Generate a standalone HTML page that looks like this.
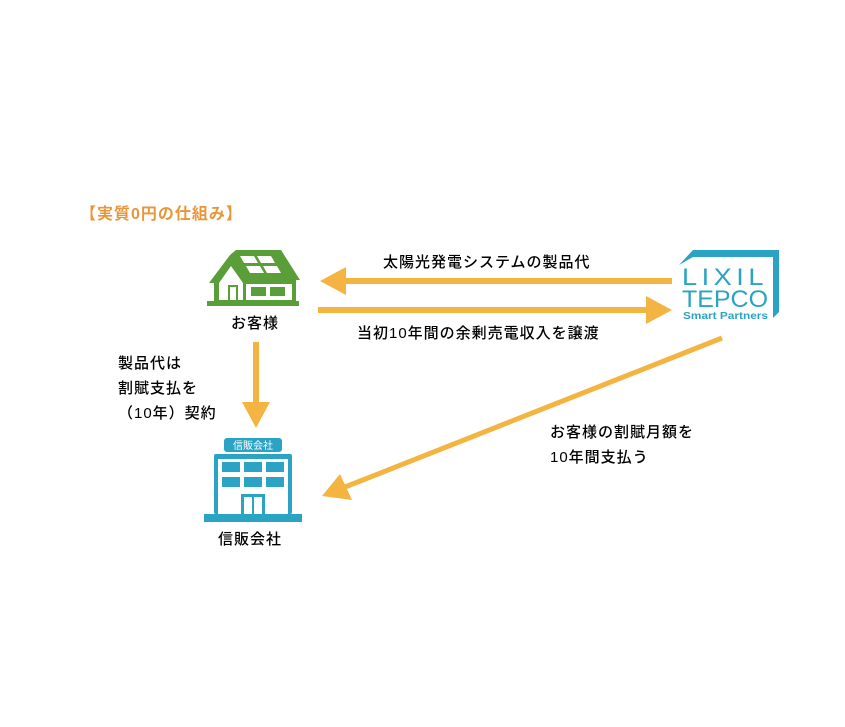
<!DOCTYPE html>
<html><head><meta charset="utf-8"><style>
body{margin:0;background:#fff;width:845px;height:727px;overflow:hidden;position:relative;font-family:"Liberation Sans","Noto Sans CJK JP",sans-serif;}
.t{position:absolute;font-size:15px;color:#000;white-space:nowrap;letter-spacing:1px;line-height:1;font-weight:500;}
</style></head><body>
<div class="t" style="left:80px;top:207px;color:#e8963a;font-size:16px;font-weight:bold;">【実質0円の仕組み】</div>
<svg width="845" height="727" style="position:absolute;left:0;top:0">
<g fill="#f3b441" stroke="none">
<rect x="340" y="278" width="332" height="6"/>
<polygon points="320,281 346,267 346,295"/>
<rect x="318" y="307" width="332" height="6"/>
<polygon points="672,310 646,296 646,324"/>
<rect x="253" y="342" width="6" height="62"/>
<polygon points="256,428 242,402 270,402"/>
<line x1="722" y1="338" x2="345" y2="487" stroke="#f3b441" stroke-width="5"/>
<polygon points="322,496 340,474 352,500"/>
</g>
<!-- house -->
<g fill="#5a9e3a">
<polygon points="209,283 230,255 236,250 281,250 300,280 248,280 251,283"/>
<rect x="214" y="280" width="82" height="24"/>
<rect x="207" y="301" width="92" height="5"/>
</g>
<!-- gable interior -->
<polygon points="219,283 231,266 243,283 243,300 219,300" fill="#fff"/>
<rect x="228" y="285" width="10" height="15" fill="#5a9e3a"/>
<rect x="230" y="287" width="6" height="13" fill="#fff"/>
<rect x="246" y="284" width="46" height="16" fill="#fff"/>
<rect x="251" y="287" width="15" height="9" fill="#5a9e3a"/>
<rect x="270" y="287" width="15" height="9" fill="#5a9e3a"/>
<g fill="#fff">
<polygon points="240,256 254,256 258,263 244,263"/><polygon points="257,256 271,256 275,263 261,263"/>
<polygon points="246,266 260,266 264,273 250,273"/><polygon points="263,266 277,266 281,273 267,273"/>
</g>
<!-- building -->
<g fill="#2aa3c4">
<rect x="224" y="438" width="58" height="14" rx="3"/>
<rect x="214" y="454" width="78" height="60" rx="2"/>
<rect x="204" y="514" width="98" height="8"/>
</g>
<rect x="218" y="459" width="70" height="55" fill="#fff"/>
<g fill="#2aa3c4">
<rect x="222" y="462" width="18" height="10"/><rect x="244" y="462" width="18" height="10"/><rect x="266" y="462" width="18" height="10"/>
<rect x="222" y="477" width="18" height="10"/><rect x="244" y="477" width="18" height="10"/><rect x="266" y="477" width="18" height="10"/>
<rect x="241" y="494" width="24" height="20"/>
</g>
<rect x="244" y="497" width="8" height="17" fill="#fff"/><rect x="254" y="497" width="8" height="17" fill="#fff"/>
<text x="253" y="449" font-size="10" fill="#fff" text-anchor="middle" font-family="Noto Sans CJK JP">信販会社</text>
<!-- logo -->
<g fill="#2aa3c4">
<polygon points="679,265 693,250 779,250 779,312 773,318 773,257 693,257"/>
</g>
<text x="682" y="285" font-size="24" fill="#2aa3c4" font-family="Liberation Sans" letter-spacing="4" textLength="86" lengthAdjust="spacingAndGlyphs">LIXIL</text>
<text x="682" y="307" font-size="24" fill="#2aa3c4" font-family="Liberation Sans" textLength="86" lengthAdjust="spacingAndGlyphs">TEPCO</text>
<text x="683" y="319" font-size="10" fill="#2aa3c4" font-weight="bold" font-family="Liberation Sans" textLength="85" lengthAdjust="spacingAndGlyphs">Smart Partners</text>
</svg>
<div class="t" style="left:231px;top:316px;">お客様</div>
<div class="t" style="left:383px;top:255px;">太陽光発電システムの製品代</div>
<div class="t" style="left:357px;top:326px;">当初10年間の余剰売電収入を譲渡</div>
<div class="t" style="left:118px;top:351px;line-height:25px;">製品代は<br>割賦支払を<br>（10年）契約</div>
<div class="t" style="left:218px;top:532px;">信販会社</div>
<div class="t" style="left:550px;top:420px;line-height:25px;">お客様の割賦月額を<br>10年間支払う</div>
</body></html>
